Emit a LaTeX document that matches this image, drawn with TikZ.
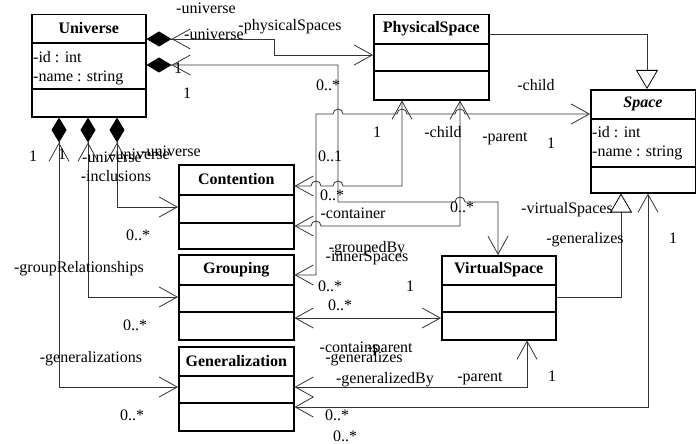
\documentclass[tikz,border=0pt]{standalone}
\usepackage{fontspec}
\setmainfont{Liberation Serif}
\usepackage{tikz}
\usetikzlibrary{arrows.meta,positioning}

\begin{document}
\begin{tikzpicture}[  x=1pt, y=-1pt,  font=\fontsize{16}{19}\selectfont,  classbox/.style={draw, line width=1.5pt, anchor=north west, inner sep=0pt},  classline/.style={line width=1.5pt},  classtitle/.style={font=\fontsize{16}{19}\selectfont\bfseries, inner sep=0pt},  attr/.style={anchor=west, inner sep=0pt},  lbl/.style={inner sep=0pt, text height=11pt, text depth=3pt},  assoc/.style={draw=black!80, line width=0.8pt},  nav/.style={assoc, {Straight Barb[length=18pt,width=20pt]}-{Straight Barb[length=18pt,width=20pt]}},  comp/.style={assoc, {Diamond[length=25pt,width=15pt,black]Straight Barb[length=18pt,width=20pt]}-{Straight Barb[length=18pt,width=20pt]}},  inherit/.style={assoc, -{Triangle[open,length=19pt,width=22pt,black]}},  ]
  \useasboundingbox (0,0) rectangle (696,444);

  % classes
  \node[classbox, minimum width=114pt, minimum height=102pt] (universe) at (31,14) {};
  \node[classtitle] (universe-title) at ([yshift=-14.5pt]universe.north) {Universe};
  \draw[classline] ([yshift=-29pt]universe.north west) -- ([yshift=-29pt]universe.north east);
  \draw[classline] ([yshift=-75pt]universe.north west) -- ([yshift=-75pt]universe.north east);
  \node[attr] (universe-id) at ([xshift=2pt,yshift=-43pt]universe.north west) {-id : int};
  \node[attr] (universe-name) at ([xshift=2pt,yshift=-64pt]universe.north west) {-name : string};

  \node[classbox, minimum width=115pt, minimum height=85pt] (physical) at (373,14) {};
  \node[classtitle] (physical-title) at ([yshift=-15pt]physical.north) {PhysicalSpace};
  \draw[classline] ([yshift=-30pt]physical.north west) -- ([yshift=-30pt]physical.north east);
  \draw[classline] ([yshift=-57pt]physical.north west) -- ([yshift=-57pt]physical.north east);

  \node[classbox, minimum width=104.5pt, minimum height=103pt] (space) at (590,89) {};
  \node[classtitle, font=\fontsize{16}{19}\selectfont\bfseries\itshape] (space-title) at ([yshift=-15pt]space.north) {Space};
  \draw[classline] ([yshift=-30pt]space.north west) -- ([yshift=-30pt]space.north east);
  \draw[classline] ([yshift=-78pt]space.north west) -- ([yshift=-78pt]space.north east);
  \node[attr] (space-id) at ([xshift=2pt,yshift=-43pt]space.north west) {-id : int};
  \node[attr] (space-name) at ([xshift=2pt,yshift=-64pt]space.north west) {-name : string};

  \node[classbox, minimum width=115pt, minimum height=84pt] (contention) at (178,164) {};
  \node[classtitle] (contention-title) at ([yshift=-15.5pt]contention.north) {Contention};
  \draw[classline] ([yshift=-31pt]contention.north west) -- ([yshift=-31pt]contention.north east);
  \draw[classline] ([yshift=-59pt]contention.north west) -- ([yshift=-59pt]contention.north east);

  \node[classbox, minimum width=115pt, minimum height=85pt] (grouping) at (178,254) {};
  \node[classtitle] (grouping-title) at ([yshift=-15.5pt]grouping.north) {Grouping};
  \draw[classline] ([yshift=-31pt]grouping.north west) -- ([yshift=-31pt]grouping.north east);
  \draw[classline] ([yshift=-58pt]grouping.north west) -- ([yshift=-58pt]grouping.north east);

  \node[classbox, minimum width=115pt, minimum height=84pt] (generalization) at (178,346) {};
  \node[classtitle] (generalization-title) at ([yshift=-15pt]generalization.north) {Generalization};
  \draw[classline] ([yshift=-30pt]generalization.north west) -- ([yshift=-30pt]generalization.north east);
  \draw[classline] ([yshift=-57pt]generalization.north west) -- ([yshift=-57pt]generalization.north east);

  \node[classbox, minimum width=114pt, minimum height=84pt] (virtual) at (441,255) {};
  \node[classtitle] (virtual-title) at ([yshift=-15pt]virtual.north) {VirtualSpace};
  \draw[classline] ([yshift=-30pt]virtual.north west) -- ([yshift=-30pt]virtual.north east);
  \draw[classline] ([yshift=-57pt]virtual.north west) -- ([yshift=-57pt]virtual.north east);

  % generalizations
  \draw[inherit] (physical.east |- 0,34) -- (647,34) -- (space.north -| 647,0);
  \draw[inherit] (virtual.east |- 0,297) -- (621,297) -- (space.south -| 621,0);

  % compositions owned by the universe
  \draw[comp] (universe.east |- 0,39) -- (274,39) -- (274,55) -- (physical.west |- 0,55);
  \draw[comp] (universe.east |- 0,65) -- (338,65) -- (338,202) -- (455,202)
    arc[start angle=180, end angle=0, radius=5pt] -- (498,202) -- (virtual.north -| 498,0);
  \draw[comp] (universe.south -| 117,0) -- (117,207) -- (contention.west |- 0,207);
  \draw[comp] (universe.south -| 88,0) -- (88,297) -- (grouping.west |- 0,297);
  \draw[comp] (universe.south -| 59,0) -- (59,387) -- (generalization.west |- 0,387);

  % associations
  \draw[nav] (contention.east |- 0,186) -- (311,186)
    arc[start angle=180, end angle=0, radius=5pt] -- (333,186)
    arc[start angle=180, end angle=0, radius=5pt] -- (402,186) -- (physical.south -| 402,0);
  \draw[nav] (contention.east |- 0,226) -- (311,226)
    arc[start angle=180, end angle=0, radius=5pt] -- (460,226) -- (physical.south -| 460,0);
  \draw[nav] (grouping.east |- 0,275) -- (316,275) -- (316,114) -- (333,114)
    arc[start angle=180, end angle=0, radius=5pt] -- (397,114)
    arc[start angle=180, end angle=0, radius=5pt] -- (455,114)
    arc[start angle=180, end angle=0, radius=5pt] -- (space.west |- 0,114);
  \draw[nav] (grouping.east |- 0,318) -- (virtual.west |- 0,318);
  \draw[nav] (generalization.east |- 0,387) -- (527,387) -- (virtual.south -| 527,0);
  \draw[nav] (generalization.east |- 0,407) -- (648,407) -- (space.south -| 648,0);

  % role names and multiplicities
  \node[lbl] (r1) at (206,10) {-universe};
  \node[lbl] (r2) at (290,27) {-physicalSpaces};
  \node[lbl] (r3) at (214,36) {-universe};
  \node[lbl] (m1) at (178,70) {1};
  \node[lbl] (m2) at (187,95) {1};
  \node[lbl] (m3) at (328,86) {0..*};
  \node[lbl] (r4) at (536,86) {-child};
  \node[lbl] (m4) at (377,133) {1};
  \node[lbl] (r5) at (443,133) {-child};
  \node[lbl] (r6) at (505,137) {-parent};
  \node[lbl] (m5) at (551,144) {1};
  \node[lbl] (m6) at (330,157) {0..1};
  \node[lbl] (m7) at (332,196) {0..*};
  \node[lbl] (r7) at (353,214) {-container};
  \node[lbl] (m8) at (462,208) {0..*};
  \node[lbl] (r8) at (567,209) {-virtualSpaces};
  \node[lbl] (r9) at (585,239) {-generalizes};
  \node[lbl] (m9) at (673,239) {1};
  \node[lbl] (r10) at (367,248) {-groupedBy};
  \node[lbl] (r11) at (367,257) {-innerSpaces};
  \node[lbl] (m10) at (330,287) {0..*};
  \node[lbl] (m11) at (410,287) {1};
  \node[lbl] (m12) at (340,306) {0..*};
  \node[lbl] (r12) at (349,348) {-contains};
  \node[lbl] (r13) at (390,348) {-parent};
  \node[lbl] (r14) at (364,358) {-generalizes};
  \node[lbl] (r15) at (385,379) {-generalizedBy};
  \node[lbl] (r16) at (480,377) {-parent};
  \node[lbl] (m13) at (552,377) {1};
  \node[lbl] (m14) at (337,416) {0..*};
  \node[lbl] (m15) at (345,437) {0..*};

  \node[lbl] (m16) at (33,157) {1};
  \node[lbl] (m17) at (62,155) {1};
  \node[lbl] (r17) at (112,158) {-universe};
  \node[lbl] (r18) at (140,155) {-universe};
  \node[lbl] (r19) at (171,152) {-universe};
  \node[lbl] (r20) at (116,177) {-inclusions};
  \node[lbl] (m18) at (138,236) {0..*};
  \node[lbl] (r21) at (79,268) {-groupRelationships};
  \node[lbl] (m19) at (135,326) {0..*};
  \node[lbl] (r22) at (91,358) {-generalizations};
  \node[lbl] (m20) at (132,416) {0..*};
\end{tikzpicture}
\end{document}
